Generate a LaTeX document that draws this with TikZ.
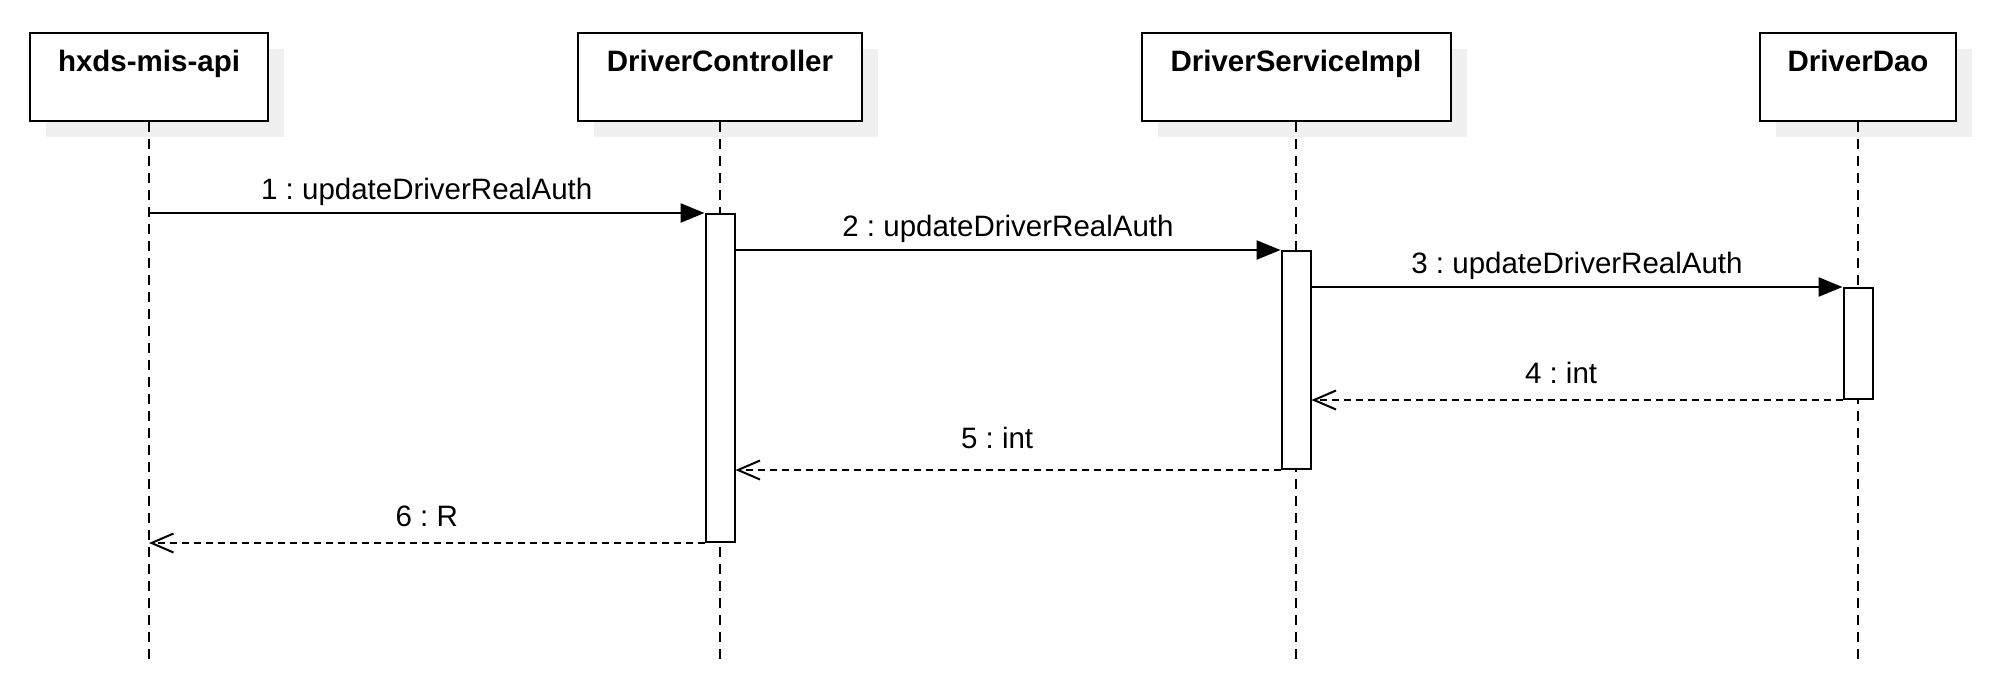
\documentclass[tikz,border=0pt]{standalone}
\usepackage{fontspec}
\setmainfont{Liberation Sans}
\usetikzlibrary{arrows.meta,shadows}
\frenchspacing

\newcommand{\seqfont}{\fontsize{29.5}{35}\selectfont}

\tikzset{
  actor/.style={draw, line width=2pt, fill=white, minimum height=88pt,
    inner ysep=0pt, text height=38pt, text depth=50pt, anchor=north,
    font=\seqfont\bfseries,
    general shadow={fill=black!6, shadow xshift=16pt, shadow yshift=-16pt}},
  lifeline/.style={line width=1.8pt, dash pattern=on 10pt off 7pt},
  bar/.style={draw, line width=2pt, fill=white, minimum width=29pt,
    inner sep=0pt, anchor=north},
  call/.style={line width=2.5pt, -{Triangle[length=24pt,width=19pt]}},
  reply/.style={line width=2pt, dash pattern=on 7pt off 5pt,
    -{Straight Barb[length=22pt,width=19pt,line width=2pt]}},
  msg/.style={anchor=base, inner sep=0pt, font=\seqfont}
}

\begin{document}
\begin{tikzpicture}[x=1pt, y=-1pt]
    \useasboundingbox (0,0) rectangle (1989,686);
    \node[actor, minimum width=238pt] (api) at (149,32) {hxds-mis-api};
    \node[actor, minimum width=284pt] (ctl) at (720,32) {DriverController};
    \node[actor, minimum width=309pt] (svc) at (1296,32) {DriverServiceImpl};
    \node[actor, minimum width=196pt] (dao) at (1858,32) {DriverDao};
    \coordinate (end) at (0,662);
    \foreach \n in {api,ctl,svc,dao}
        \draw[lifeline] (\n.south) -- (\n.south |- end);
    \node[bar, minimum height=328pt] (ctlbar) at (720,213) {};
    \node[bar, minimum height=218pt] (svcbar) at (1296,250) {};
    \node[bar, minimum height=111pt] (daobar) at (1858,287) {};
    \draw[call] (api.south |- ctlbar.north) -- node[msg, yshift=14pt]{1 : updateDriverRealAuth} (ctlbar.north west);
    \draw[call] (ctlbar.east |- svcbar.north) -- node[msg, yshift=14pt]{2 : updateDriverRealAuth} (svcbar.north west);
    \draw[call] (svcbar.east |- daobar.north) -- node[msg, yshift=14pt]{3 : updateDriverRealAuth} (daobar.north west);
    \draw[reply] (daobar.south west) -- node[msg, pos=0.53, yshift=17pt]{4 : int} (svcbar.east |- daobar.south);
    \draw[reply] (svcbar.south west) -- node[msg, pos=0.52, yshift=22pt]{5 : int} (ctlbar.east |- svcbar.south);
    \draw[reply] (ctlbar.south west) -- node[msg, yshift=17pt]{6 : R} (api.south |- ctlbar.south);
\end{tikzpicture}
\end{document}
